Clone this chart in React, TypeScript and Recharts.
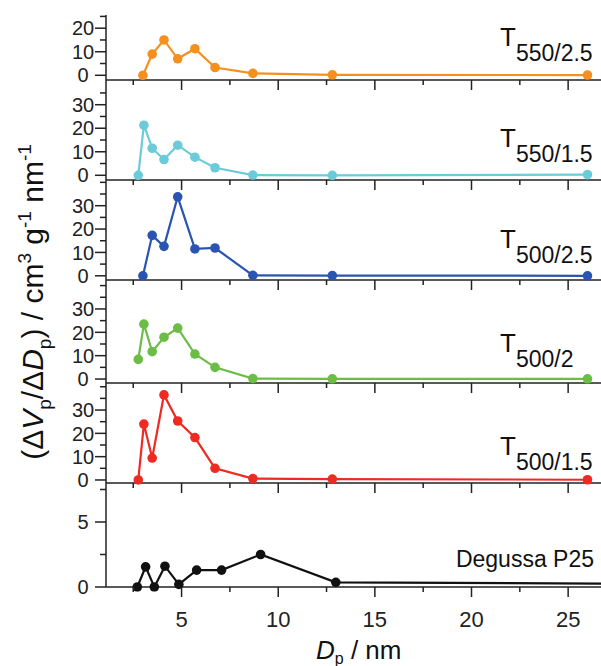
import React from "react";
import { LineChart, Line, XAxis, YAxis } from "recharts";

// pore diameters (nm)
const xA = [3.0, 3.48, 4.09, 4.8, 5.69, 6.73, 8.69, 12.8, 26.0];
const xB = [2.76, 3.05, 3.48, 4.09, 4.8, 5.69, 6.73, 8.69, 12.8, 26.0];
const xDegussa = [2.71, 3.14, 3.59, 4.14, 4.86, 5.78, 7.07, 9.09, 12.98, 27.5];

const t550_25 = [0, 9, 15, 7, 11.3, 3.3, 0.8, 0.2, 0.1];
const t550_15 = [0, 21.3, 11.5, 6.7, 12.8, 7.7, 3.2, 0.1, 0.0, 0.3];
const t500_25 = [0, 17.3, 12.6, 33.8, 11.5, 11.9, 0.2, 0.1, 0.0];
const t500_2 = [8.4, 23.5, 11.7, 17.9, 21.8, 10.7, 5.0, 0.2, 0.1, 0.1];
const t500_15 = [0, 24, 9.4, 36.5, 25.3, 18.2, 5.0, 0.6, 0.4, 0.1];
const degussa = [0, 1.55, 0, 1.6, 0.2, 1.3, 1.3, 2.5, 0.36, 0.25];

const xTicks = [2.5, 5, 7.5, 10, 12.5, 15, 17.5, 20, 22.5, 25];
const xMajor = [5, 10, 15, 20, 25];

const axisColor = "#222";
const font = "'Liberation Sans', Arial, sans-serif";

type PanelDef = {
  name: string;
  sub: string;
  xs: number[];
  ys: number[];
  color: string;
  top: number;
  bottom: number;
  domain: [number, number];
  ticks: number[];
  majors: number[];
  labelY: number;
};

const panels: PanelDef[] = [
  { name: "T", sub: "550/2.5", xs: xA, ys: t550_25, color: "#f5901f", top: 15, bottom: 80, domain: [-2, 25.6], ticks: [0, 5, 10, 15, 20, 25], majors: [0, 10, 20], labelY: 46 },
  { name: "T", sub: "550/1.5", xs: xB, ys: t550_15, color: "#6ccbd8", top: 80, bottom: 180, domain: [-2, 40.5], ticks: [0, 5, 10, 15, 20, 25, 30, 35], majors: [0, 10, 20, 30], labelY: 147 },
  { name: "T", sub: "500/2.5", xs: xA, ys: t500_25, color: "#2a54b2", top: 180, bottom: 280, domain: [-1.8, 41], ticks: [0, 5, 10, 15, 20, 25, 30, 35, 40], majors: [0, 10, 20, 30], labelY: 248 },
  { name: "T", sub: "500/2", xs: xB, ys: t500_2, color: "#6bbd46", top: 280, bottom: 383, domain: [-1.7, 42.4], ticks: [0, 5, 10, 15, 20, 25, 30, 35, 40], majors: [0, 10, 20, 30], labelY: 352 },
  { name: "T", sub: "500/1.5", xs: xB, ys: t500_15, color: "#ee2a22", top: 383, bottom: 483, domain: [-1.3, 41.6], ticks: [0, 5, 10, 15, 20, 25, 30, 35, 40], majors: [0, 10, 20, 30], labelY: 455 },
  { name: "Degussa P25", sub: "", xs: xDegussa, ys: degussa, color: "#111111", top: 483, bottom: 587, domain: [0, 8], ticks: [0, 2.5, 5, 7.5], majors: [0, 5], labelY: 567 },
];

function YTick(props: any) {
  const { x, y, payload, majors } = props;
  const major = majors.includes(payload.value);
  return (
    <g>
      <line x1={x - (major ? 11 : 6)} x2={x} y1={y} y2={y} stroke={axisColor} strokeWidth={1.5} />
      {major && (
        <text x={83} y={y} dy="0.36em" textAnchor="middle" fontSize={20} fontFamily={font} fill="#222">
          {payload.value}
        </text>
      )}
    </g>
  );
}

function XTick(props: any) {
  const { x, y, payload, showLabels } = props;
  const major = xMajor.includes(payload.value);
  return (
    <g>
      <line x1={x} x2={x} y1={y} y2={y + (major ? 10 : 5)} stroke={axisColor} strokeWidth={1.5} />
      {showLabels && major && (
        <text x={x} y={y + 40} textAnchor="middle" fontSize={22} fontFamily={font} fill="#222">
          {payload.value}
        </text>
      )}
    </g>
  );
}

function Panel({ p, last }: { p: PanelDef; last: boolean }) {
  const data = p.xs.map((x, i) => ({ x, y: p.ys[i] }));
  const axisH = last ? 666 - p.bottom : 12;
  return (
    <div style={{ position: "absolute", left: 0, top: p.top }}>
      <LineChart width={601} height={p.bottom - p.top + axisH} data={data} margin={{ top: 0, right: 0, bottom: 0, left: 0 }}>
        <XAxis
          type="number"
          dataKey="x"
          domain={[1.09, 26.7]}
          allowDataOverflow
          ticks={xTicks}
          interval={0}
          height={axisH}
          tickSize={0}
          tickMargin={0}
          axisLine={{ stroke: axisColor, strokeWidth: 1.5 }}
          tick={(tp: any) => <XTick {...tp} showLabels={last} />}
        />
        <YAxis
          type="number"
          domain={p.domain}
          ticks={p.ticks}
          interval={0}
          width={106}
          tickSize={0}
          tickMargin={0}
          axisLine={{ stroke: axisColor, strokeWidth: 1.5 }}
          tick={(tp: any) => <YTick {...tp} majors={p.majors} />}
        />
        <Line
          type="linear"
          dataKey="y"
          stroke={p.color}
          strokeWidth={2.2}
          dot={{ r: 4.8, fill: p.color, stroke: p.color, strokeWidth: 0, clipDot: false }}
          isAnimationActive={false}
        />
      </LineChart>
    </div>
  );
}

export default function App() {
  return (
    <div style={{ position: "absolute", left: 0, top: 0, width: 601, height: 666, background: "#fff", overflow: "hidden" }}>
      {panels.map((p, i) => (
        <Panel key={p.sub || p.name} p={p} last={i === panels.length - 1} />
      ))}
      <svg width={601} height={666} style={{ position: "absolute", left: 0, top: 0, pointerEvents: "none" }} fontFamily={font} fill="#111">
        {panels.map((p) =>
          p.sub ? (
            <text key={p.sub} x={500} y={p.labelY} fontSize={26}>
              T<tspan dy={15} fontSize={23}>{p.sub}</tspan>
            </text>
          ) : (
            <text key={p.name} x={594} y={p.labelY} fontSize={23} textAnchor="end">
              {p.name}
            </text>
          )
        )}
        <text x={316} y={659} fontSize={26}>
          <tspan fontStyle="italic">D</tspan>
          <tspan dy={5} fontSize={16}>p</tspan>
          <tspan dy={-5}> / nm</tspan>
        </text>
        <text transform="translate(43,302) rotate(-90)" textAnchor="middle" fontSize={30}>
          <tspan>(Δ</tspan>
          <tspan fontStyle="italic">V</tspan>
          <tspan dy={8} fontSize={19}>p</tspan>
          <tspan dy={-8}>/Δ</tspan>
          <tspan fontStyle="italic">D</tspan>
          <tspan dy={8} fontSize={19}>p</tspan>
          <tspan dy={-8}>) / cm</tspan>
          <tspan dy={-12} fontSize={19}>3</tspan>
          <tspan dy={12}> g</tspan>
          <tspan dy={-12} fontSize={19}>-1</tspan>
          <tspan dy={12}> nm</tspan>
          <tspan dy={-12} fontSize={19}>-1</tspan>
        </text>
      </svg>
    </div>
  );
}
